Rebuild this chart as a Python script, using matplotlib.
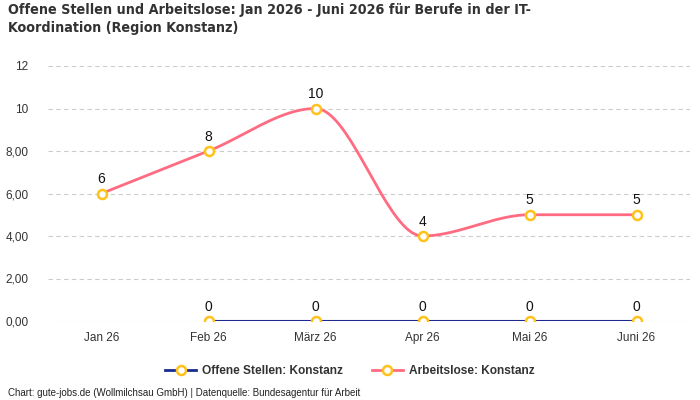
import numpy as np
import matplotlib
matplotlib.use("Agg")
import matplotlib.pyplot as plt
from matplotlib import font_manager
from matplotlib.ticker import FixedLocator, FixedFormatter
from matplotlib.lines import Line2D

# data
months = ["Jan 26", "Feb 26", "März 26", "Apr 26", "Mai 26", "Juni 26"]
offene_idx = [1, 2, 3, 4, 5]
offene = [0, 0, 0, 0, 0]
arbeitslose_idx = [0, 1, 2, 3, 4, 5]
arbeitslose = [6, 8, 10, 4, 5, 5]
yticks = [0, 2, 4, 6, 8, 10, 12]
ytick_labels = ["0,00", "2,00", "4,00", "6,00", "8,00", "10", "12"]


def monotone(x, y, n=40):
    # monotone cubic hermite (like d3 curveMonotoneX)
    x = np.asarray(x, float)
    y = np.asarray(y, float)
    h = np.diff(x)
    d = np.diff(y) / h
    m = np.zeros_like(y)
    for i in range(1, len(y) - 1):
        if d[i - 1] * d[i] <= 0:
            m[i] = 0
        else:
            p = (d[i - 1] * h[i] + d[i] * h[i - 1]) / (h[i - 1] + h[i])
            m[i] = (np.sign(d[i - 1]) + np.sign(d[i])) * min(abs(d[i - 1]), abs(d[i]), 0.5 * abs(p))
    m[0] = (3 * d[0] - m[1]) / 2
    m[-1] = (3 * d[-1] - m[-2]) / 2
    xs, ys = [], []
    for i in range(len(h)):
        t = np.linspace(0, 1, n)
        h00 = 2 * t**3 - 3 * t**2 + 1
        h10 = t**3 - 2 * t**2 + t
        h01 = -2 * t**3 + 3 * t**2
        h11 = t**3 - t**2
        xs.append(x[i] + t * h[i])
        ys.append(h00 * y[i] + h10 * h[i] * m[i] + h01 * y[i + 1] + h11 * h[i] * m[i + 1])
    return np.concatenate(xs), np.concatenate(ys)


def is_bold(w):
    if isinstance(w, str):
        return w in ("bold", "heavy", "black", "demibold", "semibold", "extra bold")
    return w >= 600


# pick a condensed bold font for the title if there is one
title_props = {"family": ["DejaVu Sans"], "stretch": "normal"}
for f in font_manager.fontManager.ttflist:
    if not is_bold(f.weight):
        continue
    if f.name == "DejaVu Sans" and f.stretch in ("condensed", "semi-condensed"):
        title_props = {"family": ["DejaVu Sans"], "stretch": f.stretch}
        break
    if "Narrow" in f.name or "Condensed" in f.name:
        title_props = {"family": [f.name, "DejaVu Sans"], "stretch": "normal"}
        break

plt.rcParams["font.family"] = ["Liberation Sans", "DejaVu Sans"]
fig = plt.figure(figsize=(7, 4), dpi=100)
ax = fig.add_axes([48 / 700, 1 - 321 / 400, 642 / 700, 255 / 400])

pink = "#ff6b81"
navy = "#1a2b8f"
yellow = "#ffc21a"

ax.plot(offene_idx, offene, color=navy, lw=1.5, zorder=3)
ax.plot(offene_idx, offene, "o", ms=6.5, mfc="white", mec=yellow, mew=1.8, zorder=4)
sx, sy = monotone(arbeitslose_idx, arbeitslose)
ax.plot(sx, sy, color=pink, lw=2, zorder=3)
ax.plot(arbeitslose_idx, arbeitslose, "o", ms=6.5, mfc="white", mec=yellow, mew=1.8, zorder=4)

for i, v in zip(offene_idx, offene):
    ax.text(i, v + 0.35, str(v), ha="center", va="bottom", fontsize=10, color="#111111")
for i, v in zip(arbeitslose_idx, arbeitslose):
    ax.text(i, v + 0.35, str(v), ha="center", va="bottom", fontsize=10, color="#111111")

ax.set_xlim(-0.5, 5.5)
ax.set_ylim(0, 12)
ax.set_xticks(range(len(months)))
ax.set_xticklabels(months, fontsize=8.5, color="#333333")
ax.yaxis.set_major_locator(FixedLocator(yticks))
ax.yaxis.set_major_formatter(FixedFormatter(ytick_labels))
ax.tick_params(axis="y", labelsize=8.5, labelcolor="#333333", length=0, pad=14)
ax.tick_params(axis="x", length=0, pad=8)
ax.grid(axis="y", color="#cccccc", ls=(0, (4, 3)), lw=0.8)
for s in ax.spines.values():
    s.set_visible(False)

title = fig.text(8 / 700, 1 - 3 / 400,
                 "Offene Stellen und Arbeitslose: Jan 2026 - Juni 2026 für Berufe in der IT-\nKoordination (Region Konstanz)",
                 ha="left", va="top", fontsize=11.5, fontweight="bold", color="#333333",
                 family=title_props["family"], fontstretch=title_props["stretch"], linespacing=1.4)
# size the title to the reference width (first line ends near x=533)
fig.canvas.draw()
w = title.get_window_extent().width
title.set_fontsize(min(12.5, 11.5 * 525 / w))

handles = [
    Line2D([], [], color=navy, lw=2, marker="o", ms=6.5, mfc="white", mec=yellow, mew=1.8),
    Line2D([], [], color=pink, lw=2, marker="o", ms=6.5, mfc="white", mec=yellow, mew=1.8),
]
leg = fig.legend(handles, ["Offene Stellen: Konstanz", "Arbeitslose: Konstanz"],
                 loc="center", bbox_to_anchor=(0.5, 1 - 371 / 400), ncol=2, frameon=False,
                 prop={"weight": "bold", "size": 8.6}, handlelength=2.6, columnspacing=2.4,
                 handletextpad=0.5)
for t in leg.get_texts():
    t.set_color("#333333")

fig.text(8 / 700, 1 - 393 / 400, "Chart: gute-jobs.de (Wollmilchsau GmbH) | Datenquelle: Bundesagentur für Arbeit",
         ha="left", va="center", fontsize=7, color="#222222")

fig.savefig("out.png", dpi=100)
